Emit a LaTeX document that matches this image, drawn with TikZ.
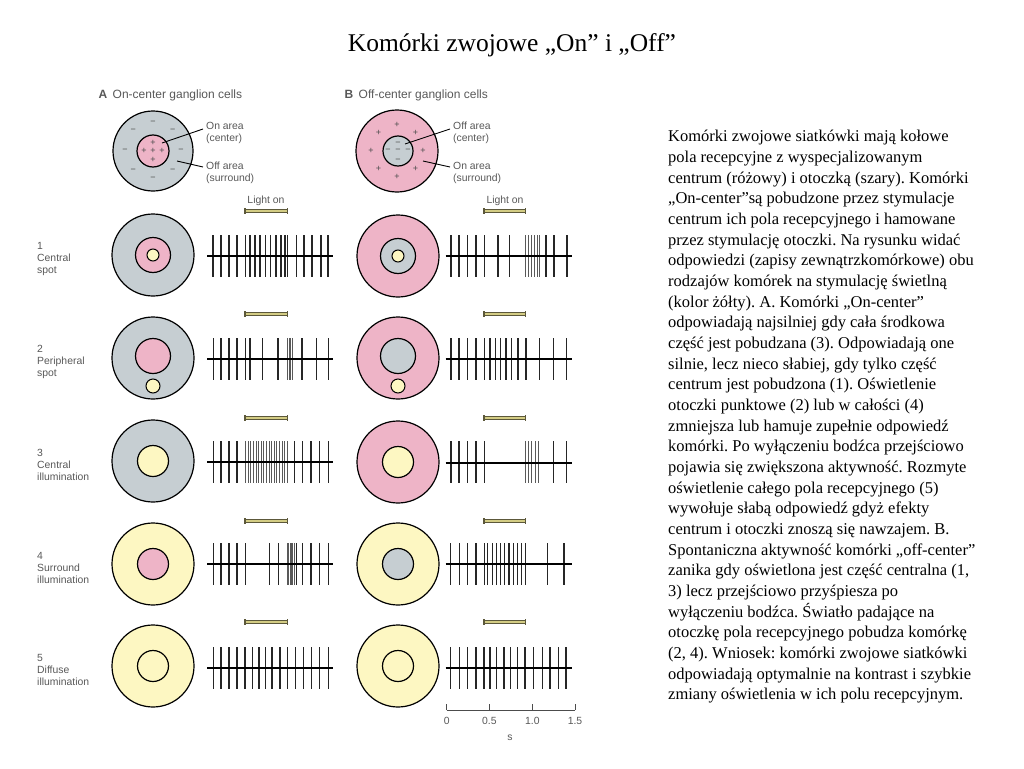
\documentclass[tikz,border=0pt]{standalone}
\usepackage{fontspec}
\setmainfont{Liberation Serif}
\setsansfont{Liberation Sans}
\usepackage{tikz}
\usetikzlibrary{positioning}
\definecolor{surrgray}{HTML}{C6CED2}
\definecolor{centpink}{HTML}{EEB4C7}
\definecolor{lightyel}{HTML}{FDF7C2}
\definecolor{labelgray}{HTML}{585858}
\definecolor{barfill}{HTML}{D3CC84}
\definecolor{bardraw}{HTML}{5C583A}
\frenchspacing

\begin{document}
\begin{tikzpicture}[x=1pt, y=-1pt,
    field/.style={circle, draw=black, line width=1.2pt, inner sep=0pt, minimum size=82pt},
    centre/.style={circle, draw=black, line width=1.2pt, inner sep=0pt, minimum size=35pt},
    spot/.style={circle, draw=black, line width=1pt, inner sep=0pt, fill=lightyel, minimum size=12pt},
    sign/.style={font=\sffamily\fontsize{9}{9}\selectfont, text=black!70, inner sep=0pt},
    lbl/.style={font=\sffamily\fontsize{10.4}{12}\selectfont, text=labelgray, align=left, inner sep=0pt},
    hdr/.style={font=\sffamily\fontsize{12}{14}\selectfont, text=labelgray, inner sep=0pt},
    leader/.style={line width=0.9pt, black},
    trace/.style={line width=1.6pt, black},
    spike/.style={line width=1.3pt, black!85},
    burst/.style={line width=0.9pt, black!65},
    lightbar/.style={fill=barfill, draw=bardraw, line width=0.7pt},
    barend/.style={line width=1.2pt, bardraw},
    scalebar/.style={line width=0.8pt, black!70}
]
\useasboundingbox (0,0) rectangle (1024,768);

% --- Title ---
\node[font=\fontsize{25.5}{30}\selectfont] (title) at (512,45) {Komórki zwojowe „On” i „Off”};

% --- Column headers ---
\node[hdr, anchor=base, font=\sffamily\bfseries\fontsize{12}{14}\selectfont] (letA) at (103,98) {A};
\node[hdr, base right=5pt of letA] (hdrA) {On-center ganglion cells};
\node[hdr, anchor=base, font=\sffamily\bfseries\fontsize{12}{14}\selectfont] (letB) at (349,98) {B};
\node[hdr, base right=5pt of letB] (hdrB) {Off-center ganglion cells};

% --- Receptive field maps ---
\node[field, fill=surrgray, minimum size=80pt] (mapA) at (153,151) {};
\node[centre, fill=centpink, minimum size=32pt] (mapAc) at (153,151) {};
\foreach \a in {0,45,...,315}
  \node[sign] at ([shift={(\a:28)}]mapA.center) {−};
\foreach \dx/\dy in {0/-8, -9/0, 0/0, 9/0, 0/9}
  \node[sign] at ([shift={(\dx,\dy)}]mapAc.center) {+};
\node[lbl, anchor=west] (onA) at (206,133) {On area\\(center)};
\node[lbl, anchor=west] (offA) at (206,173) {Off area\\(surround)};
\coordinate (onAend) at (162,143);
\coordinate (offAend) at (177,161);
\draw[leader] ([xshift=-3pt, yshift=4pt]onA.west) -- (onAend);
\draw[leader] ([xshift=-3pt, yshift=6pt]offA.west) -- (offAend);

\node[field, fill=centpink, minimum size=82pt] (mapB) at (397,151) {};
\node[centre, fill=surrgray, minimum size=30pt] (mapBc) at (398,151) {};
\foreach \a in {0,45,...,315}
  \node[sign] at ([shift={(\a:26)}]mapB.center) {+};
\foreach \dx/\dy in {0/-7, -10/0, 0/0, 10/0, 0/10}
  \node[sign] at ([shift={(\dx,\dy)}]mapBc.center) {−};
\node[lbl, anchor=west] (offB) at (453,133) {Off area\\(center)};
\node[lbl, anchor=west] (onB) at (453,173) {On area\\(surround)};
\coordinate (offBend) at (405,144);
\coordinate (onBend) at (423,161);
\draw[leader] ([xshift=-3pt, yshift=4pt]offB.west) -- (offBend);
\draw[leader] ([xshift=-3pt, yshift=6pt]onB.west) -- (onBend);

% --- Row labels ---
\node[lbl, anchor=west] (row1) at (37,259) {1\\Central\\spot};
\node[lbl, anchor=west] (row2) at (37,362) {2\\Peripheral\\spot};
\node[lbl, anchor=west] (row3) at (37,465) {3\\Central\\illumination};
\node[lbl, anchor=west] (row4) at (37,568) {4\\Surround\\illumination};
\node[lbl, anchor=west] (row5) at (37,670) {5\\Diffuse\\illumination};

% --- Stimuli, on-center ---
\node[field, fill=surrgray] (a1) at (153,255) {};
\node[centre, fill=centpink] (a1c) at (153,255) {};
\node[spot] (a1s) at (153,255) {};
\node[field, fill=surrgray] (a2) at (153,358) {};
\node[centre, fill=centpink] (a2c) at (153,356) {};
\node[spot, minimum size=14pt] (a2s) at (153,386) {};
\node[field, fill=surrgray] (a3) at (153,461) {};
\node[centre, fill=lightyel, minimum size=31pt] (a3c) at (153,461) {};
\node[field, fill=lightyel] (a4) at (153,564) {};
\node[centre, fill=centpink, minimum size=31pt] (a4c) at (153,564) {};
\node[field, fill=lightyel] (a5) at (153,666) {};
\node[centre, fill=lightyel, minimum size=31pt] (a5c) at (153,666) {};

% --- Stimuli, off-center ---
\node[field, fill=centpink] (b1) at (398,256) {};
\node[centre, fill=surrgray] (b1c) at (398,256) {};
\node[spot] (b1s) at (398,256) {};
\node[field, fill=centpink] (b2) at (398,358) {};
\node[centre, fill=surrgray] (b2c) at (398,356) {};
\node[spot, minimum size=14pt] (b2s) at (398,386) {};
\node[field, fill=centpink] (b3) at (398,462) {};
\node[centre, fill=lightyel, minimum size=31pt] (b3c) at (398,462) {};
\node[field, fill=lightyel] (b4) at (398,564) {};
\node[centre, fill=surrgray, minimum size=31pt] (b4c) at (398,564) {};
\node[field, fill=lightyel] (b5) at (398,666) {};
\node[centre, fill=lightyel, minimum size=31pt] (b5c) at (398,666) {};

% --- Light on bars ---
\node[lbl] (lightA) at (266,201) {Light on};
\node[lbl] (lightB) at (505,201) {Light on};
\foreach \y in {211,314,418,521,622} {
  \draw[lightbar] (245,\y-1.6) rectangle (287.5,\y+1.6);
  \draw[barend] (245,\y-3) -- (245,\y+3) (287.5,\y-3) -- (287.5,\y+3);
  \draw[lightbar] (484,\y-1.6) rectangle (525.7,\y+1.6);
  \draw[barend] (484,\y-3) -- (484,\y+3) (525.7,\y-3) -- (525.7,\y+3);
}

% --- Spike trains, on-center ---
\foreach \x in {213,221,229,237,245.5,250,255,260,265.5,270.7,276,281,285,287.5,296.5,304,312,321,328}
  \draw[spike] (\x,235) -- (\x,277);
\foreach \x in {213.3,221,229,237,245.7,250,262.7,278,302,316.7,328.3}
  \draw[spike] (\x,338) -- (\x,380);
\foreach \x in {287.3,289,290.7,292.4}
  \draw[burst] (\x,338) -- (\x,380);
\foreach \x in {213.3,221,229,237,294.7,302.7,311,319.3,328.3}
  \draw[spike] (\x,441) -- (\x,483);
\foreach \x in {245.7,248.3,...,287.4}
  \draw[burst] (\x,441) -- (\x,483);
\foreach \x in {213.3,221,229,237,245.7,269.3,278.7,296.7,302.7,311,319.3,328.3}
  \draw[spike] (\x,543) -- (\x,585);
\foreach \x in {287.3,288.7,290,291.3,292.7,294}
  \draw[burst] (\x,543) -- (\x,585);
\foreach \x in {213.3,221,229,237,245,252.3,259,265.3,272,280,287.3,295.3,303.3,311.7,319.3,328.3}
  \draw[spike] (\x,647) -- (\x,689);
\foreach \y in {256,359,462,564,668}
  \draw[trace] (207.3,\y) -- (333.3,\y);

% --- Spike trains, off-center ---
\foreach \x in {451,459,467.5,476,484.2,498,509.3,546,554,567}
  \draw[spike] (\x,235) -- (\x,277);
\foreach \x in {525.3,528,531,534,537,539.7}
  \draw[burst] (\x,235) -- (\x,277);
\foreach \x in {451,459,467.7,476,484.3,490,495.3,500.7,506,511.7,518,526,539.7,553.3,566.7}
  \draw[spike] (\x,338) -- (\x,380);
\foreach \x in {451,459,467.5,476,484.2,553.3,566.7}
  \draw[spike] (\x,441) -- (\x,483);
\foreach \x in {525.3,528.3,531.5,535,538.5}
  \draw[burst] (\x,441) -- (\x,483);
\foreach \x in {450.7,459.3,467.7,476,484.3,487.7,492.3,496.3,500.3,504.7,509,513.3,517.3,521.7,525.7,547.7,564}
  \draw[spike] (\x,543) -- (\x,585);
\foreach \x in {450.7,459.3,467.7,476,484,490,496.7,504,510.7,517.3,525,533.3,542.3,550,558.3,566}
  \draw[spike] (\x,647) -- (\x,689);
\foreach \y in {256,359,463,564,668}
  \draw[trace] (445.7,\y) -- (571.7,\y);

% --- Time scale ---
\draw[scalebar] (446.7,710) -- (575,710);
\foreach \x in {446.7,489.3,532.3,575}
  \draw[scalebar] (\x,710) -- (\x,704);
\node[lbl] (t0) at (446.7,721) {0};
\node[lbl] (t1) at (489.3,721) {0.5};
\node[lbl] (t2) at (532.3,721) {1.0};
\node[lbl] (t3) at (575,721) {1.5};
\node[lbl] (unit) at (510,738) {s};

% --- Description ---
\node[font=\fontsize{16.5}{20.67}\selectfont, align=left, anchor=north west, inner sep=0pt] (desc) at (668,130) {%
Komórki zwojowe siatkówki mają kołowe\\
pola recepcyjne z wyspecjalizowanym\\
centrum (różowy) i otoczką (szary). Komórki\\
„On-center”są pobudzone przez stymulacje\\
centrum ich pola recepcyjnego i hamowane\\
przez stymulację otoczki. Na rysunku widać\\
odpowiedzi (zapisy zewnątrzkomórkowe) obu\\
rodzajów komórek na stymulację świetlną\\
(kolor żółty). A. Komórki „On-center”\\
odpowiadają najsilniej gdy cała środkowa\\
część jest pobudzana (3). Odpowiadają one\\
silnie, lecz nieco słabiej, gdy tylko część\\
centrum jest pobudzona (1). Oświetlenie\\
otoczki punktowe (2) lub w całości (4)\\
zmniejsza lub hamuje zupełnie odpowiedź\\
komórki. Po wyłączeniu bodźca przejściowo\\
pojawia się zwiększona aktywność. Rozmyte\\
oświetlenie całego pola recepcyjnego (5)\\
wywołuje słabą odpowiedź gdyż efekty\\
centrum i otoczki znoszą się nawzajem. B.\\
Spontaniczna aktywność komórki „off-center”\\
zanika gdy oświetlona jest część centralna (1,\\
3) lecz przejściowo przyśpiesza po\\
wyłączeniu bodźca. Światło padające na\\
otoczkę pola recepcyjnego pobudza komórkę\\
(2, 4). Wniosek: komórki zwojowe siatkówki\\
odpowiadają optymalnie na kontrast i szybkie\\
zmiany oświetlenia w ich polu recepcyjnym.};

\end{tikzpicture}
\end{document}
